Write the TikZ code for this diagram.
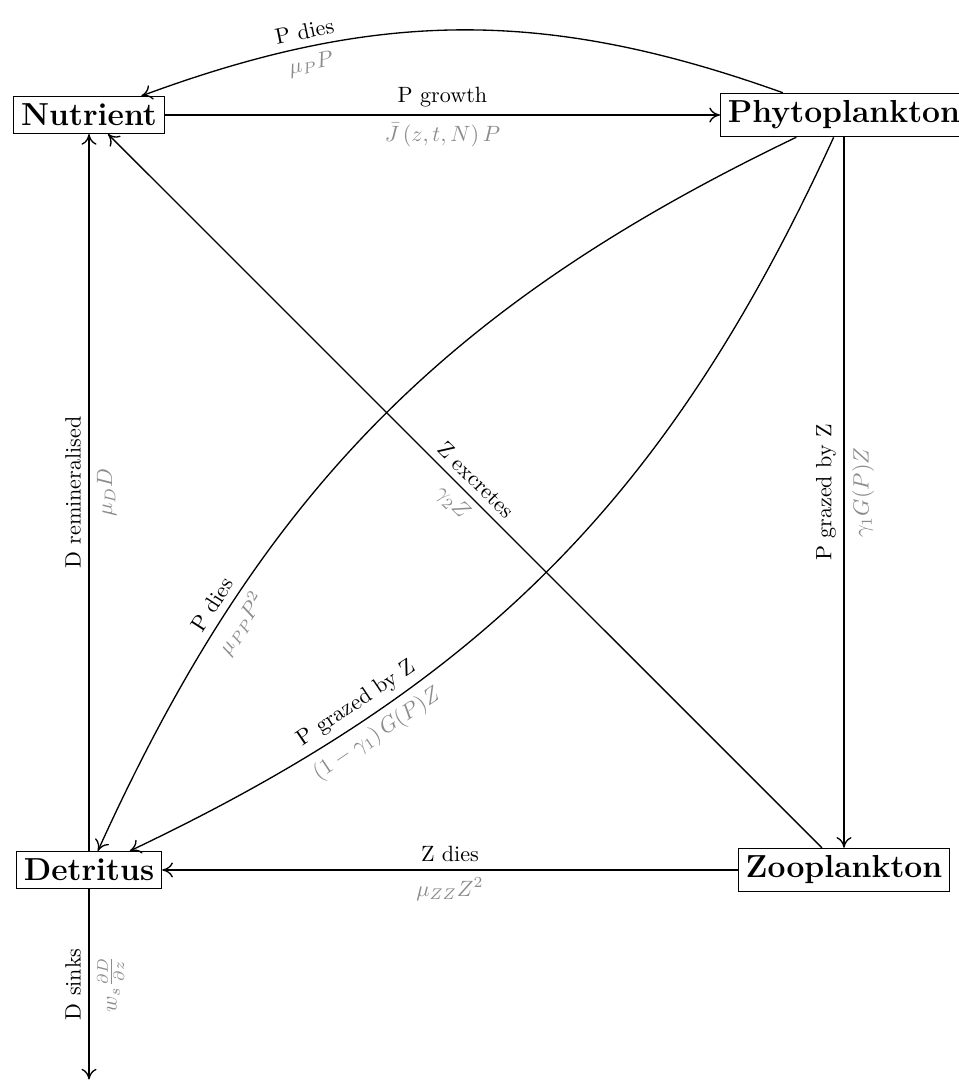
\documentclass[tikz,border=0pt]{standalone}
\usetikzlibrary{positioning,arrows.meta}
\colorlet{rateGray}{black!45}

\begin{document}
\begin{tikzpicture}[
      >={To[length=1.7mm,width=2.4mm]},
      pool/.style={draw, semithick, font=\Large\bfseries},
      flux/.style={semithick},
      lab/.style={sloped, above},
      rate/.style={sloped, below, text=rateGray}]
    \useasboundingbox (-1.415,-15.37) rectangle (13.815,1.828);
    \node[pool] (nu) at (0,0)    {Nutrient};
    \node[pool] (ph) at (12,0)   {Phytoplankton};
    \node[pool] (zo) at (12,-12) {Zooplankton};
    \node[pool] (de) at (0,-12)  {Detritus};
    \coordinate (sk) at (0,-15.33);
    % straight fluxes
    \draw[flux,->] (nu) -- node[lab] {P growth} node[rate] {$\bar{J}\,(z,t,N)\,P$} (ph);
    \draw[flux,<-] (zo) -- node[lab] {P grazed by Z} node[rate] {$\gamma_1 G(P) Z$} (ph);
    \draw[flux,->] (zo) -- node[lab] {Z dies} node[rate] {$\mu_{ZZ} Z^2$} (de);
    \draw[flux,->] (de) -- node[lab] {D remineralised} node[rate] {$\mu_D D$} (nu);
    \draw[flux,->] (zo) -- node[lab] {Z excretes} node[rate] {$\gamma_2 Z$} (nu);
    \draw[flux,<-] (sk) -- node[lab] {D sinks} node[rate] {$w_s \frac{\partial D}{\partial z}$} (de);
    % curved fluxes
    \draw[flux,->] (ph) to[bend right=20]
      node[lab, near end] {P dies} node[rate, near end] {$\mu_P P$} (nu);
    \draw[flux,->] (ph) to[bend right=20]
      node[lab, near end] {P dies} node[rate, near end] {$\mu_{PP} P^2$} (de);
    \draw[flux,->] (ph) to[bend left=20]
      node[lab, near end] {P grazed by Z} node[rate, near end] {$(1-\gamma_1)\,G(P) Z$} (de);
  \end{tikzpicture}
\end{document}
